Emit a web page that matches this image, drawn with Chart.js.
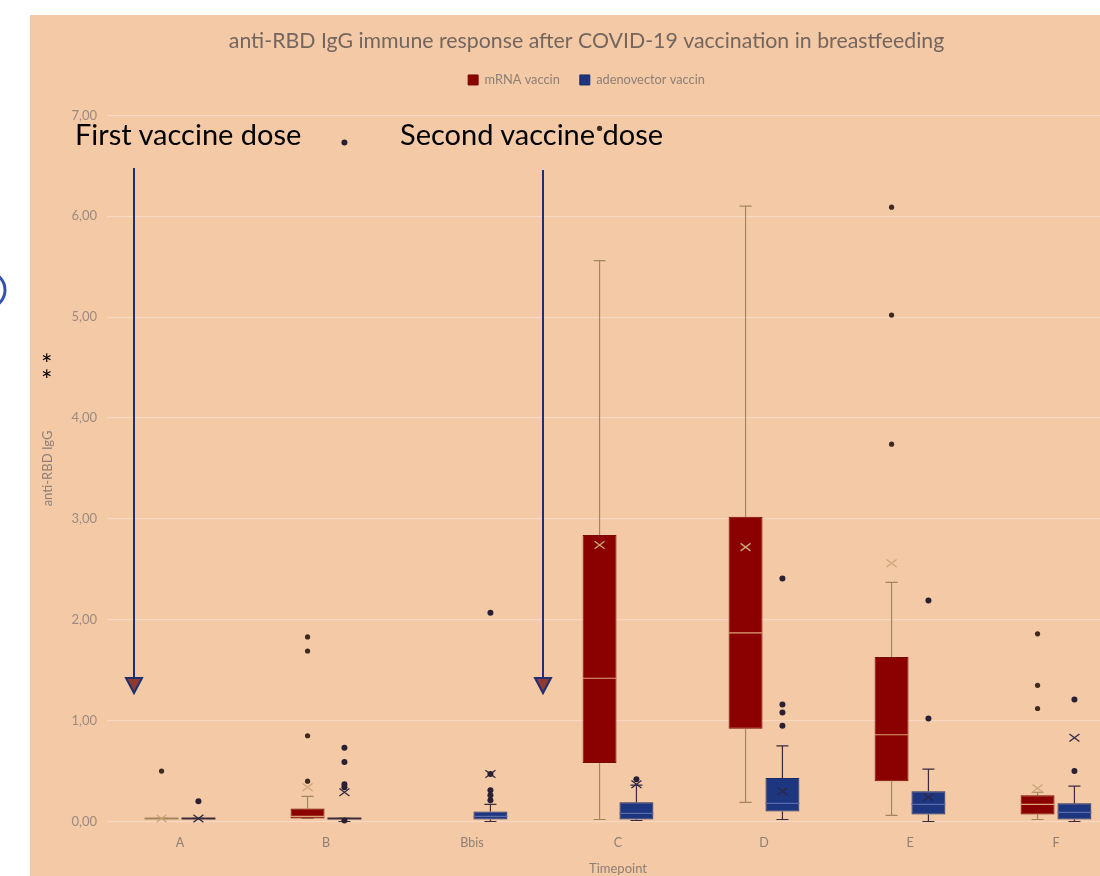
<!DOCTYPE html>
<html><head><meta charset="utf-8">
<script src="https://cdn.jsdelivr.net/npm/chart.js@4.4.1/dist/chart.umd.min.js"></script>
<style>
html,body{margin:0;padding:0;background:#fff;overflow:hidden;width:1100px;height:876px;}
#wrap{position:absolute;left:30px;top:15px;width:1115px;height:880px;background:#F3C9A6;}
#c{position:absolute;left:0;top:0;}
.ann{position:absolute;font-family:Lato,'Liberation Sans',sans-serif;color:#000;white-space:nowrap;}
#ov{position:absolute;left:0;top:0;}
</style></head><body>
<div id="wrap"><canvas id="c" width="1115" height="880"></canvas></div>
<svg id="ov" width="1100" height="876">
  <circle cx="-13" cy="290" r="18" fill="none" stroke="#3550B0" stroke-width="3"/>
  <line x1="134" y1="168" x2="134" y2="679" stroke="#1F2F72" stroke-width="2"/>
  <polygon points="126,678 142,678 134,693" fill="#8E3A2E" stroke="#1F2F72" stroke-width="2" stroke-linejoin="miter"/>
  <line x1="543" y1="170" x2="543" y2="679" stroke="#1F2F72" stroke-width="2"/>
  <polygon points="535,678 551,678 543,693" fill="#8E3A2E" stroke="#1F2F72" stroke-width="2" stroke-linejoin="miter"/>
</svg>
<div class="ann" style="left:75px;top:116px;font-size:29px;">First vaccine dose</div>
<div class="ann" style="left:400px;top:116px;font-size:29px;">Second vaccine dose</div>
<div class="ann" style="left:41px;top:350px;font-size:27px;line-height:27px;">*</div>
<div class="ann" style="left:41px;top:366px;font-size:27px;line-height:27px;">*</div>
<script>
// ---- data ----
const categories = ['A','B','Bbis','C','D','E','F'];
const seriesNames = ['mRNA vaccin','adenovector vaccin'];

const mrnaWhiskerLow  = [0.03, 0.03, null, 0.02, 0.19, 0.06, 0.02];
const mrnaQ1          = [0.03, 0.03, null, 0.58, 0.92, 0.40, 0.07];
const mrnaMedian      = [0.03, 0.05, null, 1.42, 1.87, 0.86, 0.17];
const mrnaQ3          = [0.03, 0.13, null, 2.84, 3.02, 1.63, 0.26];
const mrnaWhiskerHigh = [0.03, 0.25, null, 5.56, 6.10, 2.37, 0.29];
const mrnaMean        = [0.03, 0.34, null, 2.74, 2.72, 2.56, 0.33];
const mrnaOutliers    = [[0.50], [0.40, 0.85, 1.69, 1.83], [], [6.87], [], [3.74, 5.02, 6.09], [1.12, 1.35, 1.86]];

const adenoWhiskerLow  = [0.03, 0.00, 0.00, 0.01, 0.02, 0.00, 0.00];
const adenoQ1          = [0.03, 0.03, 0.02, 0.02, 0.10, 0.07, 0.02];
const adenoMedian      = [0.03, 0.03, 0.05, 0.08, 0.18, 0.17, 0.09];
const adenoQ3          = [0.03, 0.03, 0.10, 0.19, 0.43, 0.30, 0.18];
const adenoWhiskerHigh = [0.03, 0.03, 0.17, 0.36, 0.75, 0.52, 0.35];
const adenoMean        = [0.03, 0.29, 0.47, 0.37, 0.30, 0.24, 0.83];
const adenoOutliers    = [[0.20], [0.01, 0.34, 0.37, 0.59, 0.73, 6.73], [0.21, 0.26, 0.31, 0.47, 2.07], [0.42], [0.95, 1.08, 1.16, 2.41], [1.02, 2.19], [0.50, 1.21]];

const yMin = 0, yMax = 7, yStep = 1;

// ---- styles ----
const styles = [
  {fill:'#8B0000', border:'#7A0A05', whisker:'#A3865E', median:'#D9A376', mean:'#C9A878', outlier:'#3E2A1E'},
  {fill:'#1E3580', border:'#1A2C66', whisker:'#3A2C3C', median:'#5B6AA8', mean:'#2E2844', outlier:'#2B2033'}
];
const stats = [
  {wl:mrnaWhiskerLow, q1:mrnaQ1, med:mrnaMedian, q3:mrnaQ3, wh:mrnaWhiskerHigh, mean:mrnaMean, out:mrnaOutliers},
  {wl:adenoWhiskerLow, q1:adenoQ1, med:adenoMedian, q3:adenoQ3, wh:adenoWhiskerHigh, mean:adenoMean, out:adenoOutliers}
];

const boxDecor = {
  id:'boxDecor',
  beforeDatasetsDraw(chart){
    const y = chart.scales.y, ctx = chart.ctx;
    ctx.save();
    stats.forEach((s,d)=>{
      const meta = chart.getDatasetMeta(d);
      meta.data.forEach((bar,i)=>{
        if (s.q1[i]==null) return;
        const x = bar.x, cw = 12;
        ctx.strokeStyle = styles[d].whisker; ctx.lineWidth = 1.2;
        ctx.beginPath();
        ctx.moveTo(x, y.getPixelForValue(s.q3[i])); ctx.lineTo(x, y.getPixelForValue(s.wh[i]));
        ctx.moveTo(x, y.getPixelForValue(s.q1[i])); ctx.lineTo(x, y.getPixelForValue(s.wl[i]));
        ctx.moveTo(x-cw/2, y.getPixelForValue(s.wh[i])); ctx.lineTo(x+cw/2, y.getPixelForValue(s.wh[i]));
        ctx.moveTo(x-cw/2, y.getPixelForValue(s.wl[i])); ctx.lineTo(x+cw/2, y.getPixelForValue(s.wl[i]));
        ctx.stroke();
      });
    });
    ctx.restore();
  },
  afterDatasetsDraw(chart){
    const y = chart.scales.y, ctx = chart.ctx;
    ctx.save();
    stats.forEach((s,d)=>{
      const meta = chart.getDatasetMeta(d);
      meta.data.forEach((bar,i)=>{
        if (s.q1[i]==null) return;
        const x = bar.x, w = bar.width;
        const flat = s.q1[i]===s.q3[i];
        ctx.strokeStyle = flat ? styles[d].whisker : styles[d].median;
        ctx.lineWidth = flat ? 2 : 1.2;
        const my = y.getPixelForValue(s.med[i]);
        ctx.beginPath(); ctx.moveTo(x-w/2, my); ctx.lineTo(x+w/2, my); ctx.stroke();
        const ym = y.getPixelForValue(s.mean[i]), r = 5;
        ctx.strokeStyle = styles[d].mean; ctx.lineWidth = 1.3;
        ctx.beginPath();
        ctx.moveTo(x-r, ym-r*0.75); ctx.lineTo(x+r, ym+r*0.75);
        ctx.moveTo(x-r, ym+r*0.75); ctx.lineTo(x+r, ym-r*0.75);
        ctx.stroke();
        ctx.fillStyle = styles[d].outlier;
        s.out[i].forEach(v=>{
          ctx.beginPath(); ctx.arc(x, y.getPixelForValue(v), d===0?2.6:3, 0, Math.PI*2); ctx.fill();
        });
      });
    });
    ctx.restore();
  }
};

const legendPad = {
  id:'legendPad',
  beforeInit(chart){
    const fit = chart.legend.fit;
    chart.legend.fit = function(){ fit.call(this); this.height += 19; };
  }
};

const greyTxt = '#8E7F76';
new Chart(document.getElementById('c'), {
  type:'bar',
  data:{
    labels: categories,
    datasets: stats.map((s,d)=>({
      label: seriesNames[d],
      data: categories.map((c,i)=> s.q1[i]==null ? null : [s.q1[i], s.q3[i]]),
      backgroundColor: styles[d].fill,
      borderColor: styles[d].border,
      borderWidth: 1,
      borderSkipped: false,
      categoryPercentage: 0.505,
      barPercentage: 0.92
    }))
  },
  options:{
    responsive:false, animation:false, devicePixelRatio:1,
    layout:{padding:{top:0,right:16,bottom:0,left:14}},
    plugins:{
      tooltip:{enabled:false},
      title:{display:true, text:'anti-RBD IgG immune response after COVID-19 vaccination in breastfeeding',
        color:'#74665F', font:{family:'Lato', size:21.3, weight:'normal'}, padding:{top:13,bottom:0}},
      legend:{display:true, position:'top',
        labels:{boxWidth:10, boxHeight:10, padding:20, color:greyTxt, font:{family:'Lato', size:12.8}}}
    },
    scales:{
      x:{
        grid:{display:false, drawTicks:false},
        border:{display:false},
        ticks:{color:greyTxt, font:{family:'Lato', size:12.5}, padding:14},
        title:{display:true, text:'Timepoint', color:greyTxt, font:{family:'Lato', size:13}, padding:{top:4,bottom:18}},
        afterFit(s){ s.height = 73.5; }
      },
      y:{
        min:yMin, max:yMax,
        grid:{color:'#F7D8C3', lineWidth:1.2, drawTicks:false},
        border:{display:false},
        ticks:{stepSize:yStep, color:'#9C8A80', font:{family:'Lato', size:13}, padding:10,
          callback:v=>v.toFixed(2).replace('.',',')},
        title:{display:true, text:'anti-RBD IgG', color:greyTxt, font:{family:'Lato', size:13}, padding:{top:-4,bottom:0}},
        afterFit(s){ s.width = 63; }
      }
    }
  },
  plugins:[legendPad, boxDecor]
});
</script>
</body></html>
